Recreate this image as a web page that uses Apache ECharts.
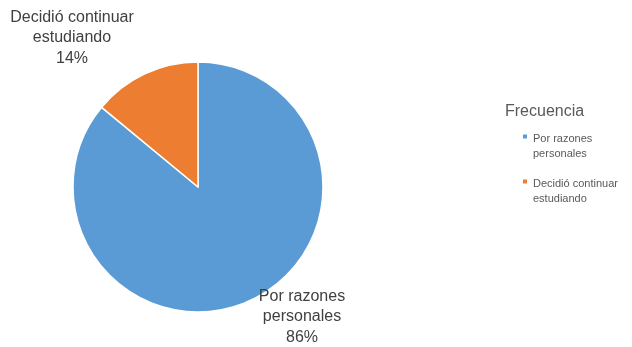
<!DOCTYPE html>
<html><head><meta charset="utf-8">
<script src="https://cdn.jsdelivr.net/npm/echarts@6/dist/echarts.min.js"></script>
<style>html,body{margin:0;padding:0;background:#fff}#c{width:632px;height:347px}</style>
</head><body><div id="c"></div>
<script>
var categories = ['Por razones personales', 'Decidió continuar estudiando'];
var wrapped = ['Por razones\npersonales', 'Decidió continuar\nestudiando'];
var values = [86, 14];
var colors = ['#5B9BD5', '#ED7D31'];
var labelPos = [[302, 317], [72, 38]];
var chart = echarts.init(document.getElementById('c'));
var font = 'Liberation Sans, Arial, sans-serif';
chart.setOption({
  animation: false,
  title: { text: 'Frecuencia', left: 500, top: 99, textStyle: { fontFamily: font, fontSize: 16, fontWeight: 'normal', color: '#595959' } },
  legend: {
    orient: 'vertical', left: 516, top: 126, itemWidth: 6, itemHeight: 30, itemGap: 14,
    icon: 'path://M0,4h6v6h-6z M0,29.9h0.1v0.1h-0.1z',
    formatter: function (n) { return wrapped[categories.indexOf(n)]; },
    textStyle: { fontFamily: font, fontSize: 11, color: '#595959', lineHeight: 15.5 },
    data: categories
  },
  series: [{
    type: 'pie', center: [198, 187], radius: 125, startAngle: 90, clockwise: true,
    itemStyle: { borderColor: '#fff', borderWidth: 1.5 },
    label: {
      show: true, position: 'outside', fontFamily: font, fontSize: 16, color: '#404040', lineHeight: 20.5, align: 'center',
      overflow: 'none', width: 300,
      formatter: function (p) { return wrapped[p.dataIndex] + '\n' + p.value + '%'; }
    },
    labelLine: { show: false },
    labelLayout: function (p) { return { x: labelPos[p.dataIndex][0], y: labelPos[p.dataIndex][1], align: 'center', verticalAlign: 'middle' }; },
    data: categories.map(function (c, i) { return { name: c, value: values[i], itemStyle: { color: colors[i] } }; })
  }]
});
</script></body></html>
